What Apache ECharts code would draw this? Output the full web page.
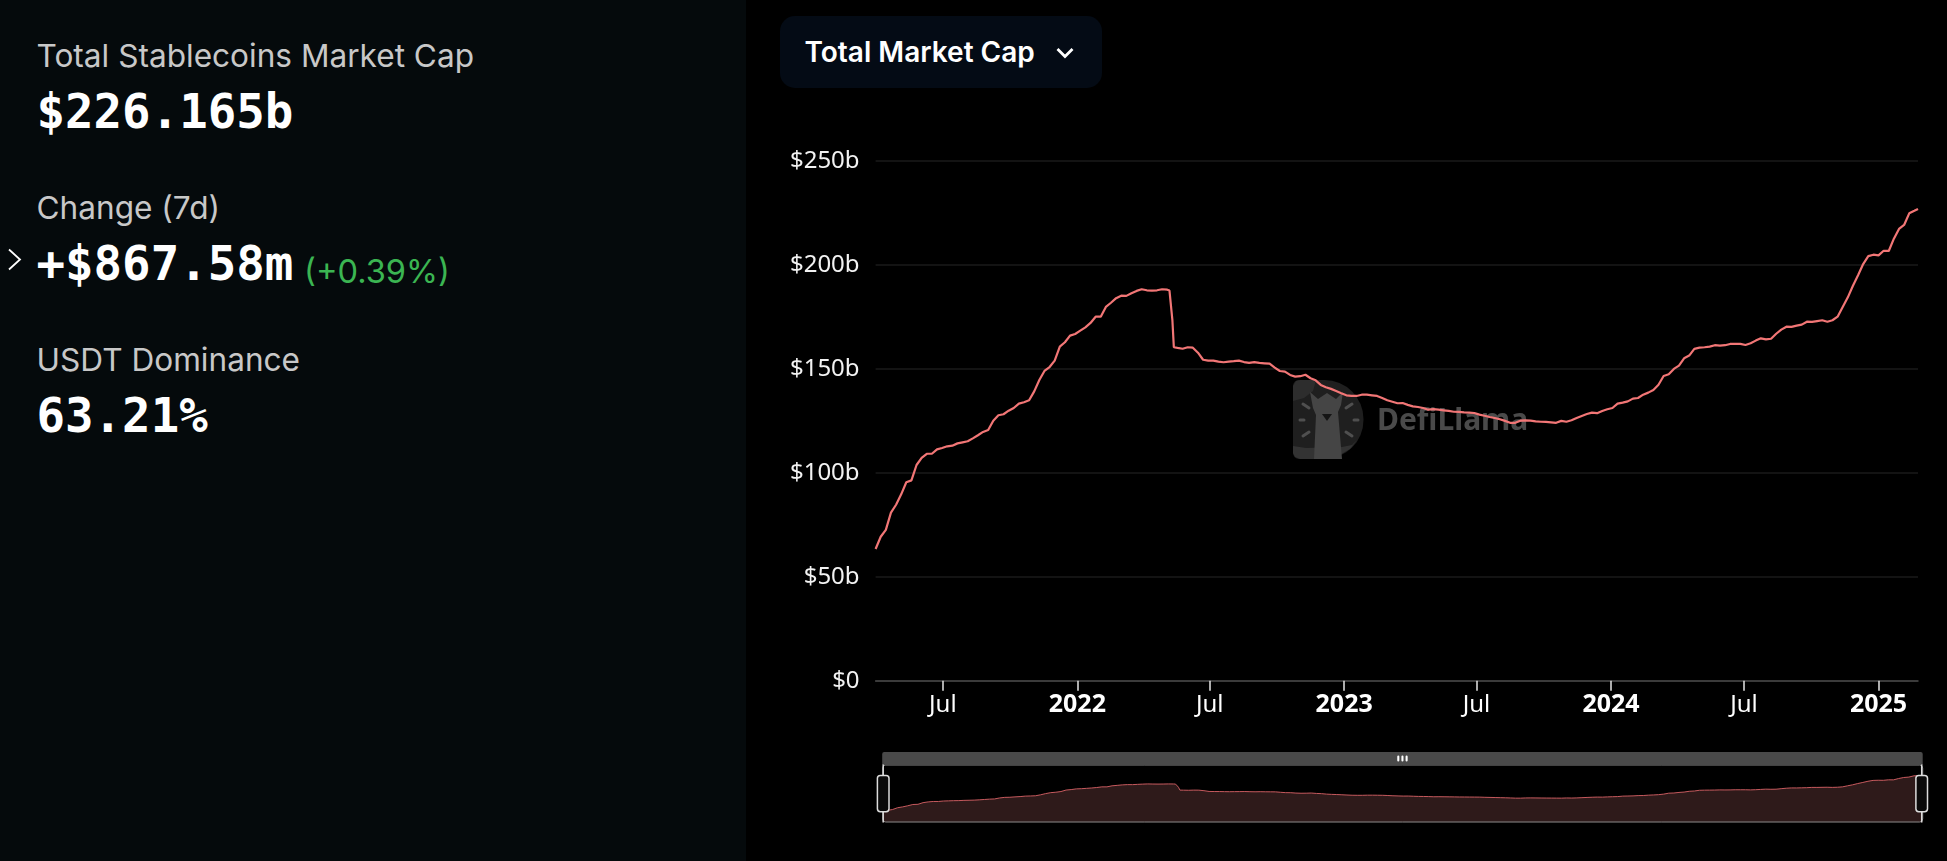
<!DOCTYPE html>
<html>
<head>
<meta charset="utf-8">
<title>Total Stablecoins Market Cap</title>
<script src="https://cdn.jsdelivr.net/npm/echarts@6/dist/echarts.min.js"></script>
<style>
  html, body { margin: 0; padding: 0; width: 1947px; height: 861px; background: #000; overflow: hidden; }
  #chart { position: absolute; left: 0; top: 0; width: 1947px; height: 861px; }
  #side { position: absolute; left: 0; top: 0; width: 746px; height: 861px; background: #050a0c; z-index: 2; }
  .t { position: absolute; white-space: nowrap; line-height: 1; }
  .label { left: 36.5px; font: 400 31.6px Inter, sans-serif; line-height: 1; color: #c8c8c8; }
  .num { left: 36.5px; font: 700 47.4px "DejaVu Sans Mono", monospace; line-height: 1; color: #fff; }
  #pct { left: 304px; top: 255px; font: 400 32.6px Inter, sans-serif; line-height: 1; color: #3bb552; }
  #btn { position: absolute; left: 780px; top: 16px; width: 322px; height: 72px; border-radius: 15px; background: #040b15; z-index: 2; }
  #btn span { position: absolute; left: 24.5px; top: 22px; white-space: nowrap; font: 600 28px Inter, sans-serif; line-height: 1; color: #fff; }
  #btn svg, #arrow { position: absolute; }
</style>
</head>
<body>
<div id="chart"></div>
<div id="side">
  <div class="t label" style="top:40px">Total Stablecoins Market Cap</div>
  <div class="t num" style="top:88px">$226.165b</div>
  <div class="t label" style="top:192px">Change (7d)</div>
  <svg id="arrow" style="left:7px;top:248px" width="16" height="24"><path d="M2 1.5 L13 11.5 L2 21.5" fill="none" stroke="#fff" stroke-width="1.8"/></svg>
  <div class="t num" style="top:240px">+$867.58m</div>
  <div class="t" id="pct">(+0.39%)</div>
  <div class="t label" style="top:344px">USDT Dominance</div>
  <div class="t num" style="top:392px">63.21%</div>
</div>
<div id="btn">
  <span>Total Market Cap</span>
  <svg style="left:275px;top:30px" width="20" height="14"><path d="M2.5 3 L10 10.5 L17.5 3" fill="none" stroke="#fff" stroke-width="2.8"/></svg>
</div>
<script>
  // weekly readings, $b
  var firstDate = '2021-03-31';
  var lastDate = '2025-02-24';
  var marketCap = [
    63.3, 69.2, 72.5, 80.8, 84.6, 89.6, 95.4, 96.3, 103.7, 107.1,
    109.1, 109.1, 111.2, 111.9, 112.7, 113.0, 114.1, 114.6, 115.1, 116.5,
    118.0, 119.6, 120.5, 125.0, 127.6, 128.1, 129.8, 131.1, 133.2, 133.9,
    134.8, 139.1, 144.6, 148.9, 150.8, 153.9, 160.6, 162.7, 165.9, 166.7,
    168.3, 169.9, 172.0, 175.0, 175.0, 179.7, 181.7, 183.9, 185.1, 185.0,
    186.3, 187.4, 188.2, 187.7, 187.5, 187.7, 188.2, 188.0, 173.4, 160.0,
    159.6, 160.3, 160.1, 157.7, 154.3, 153.9, 153.9, 153.4, 153.1, 153.4,
    153.6, 153.9, 153.2, 152.8, 153.2, 152.8, 152.6, 152.4, 150.5, 148.9,
    148.6, 147.0, 146.2, 146.4, 147.1, 145.4, 144.4, 142.2, 141.1, 140.3,
    139.3, 138.2, 137.2, 136.9, 136.9, 137.5, 137.5, 137.2, 136.9, 135.9,
    134.8, 134.1, 133.4, 133.5, 132.6, 131.9, 131.6, 131.1, 130.3, 130.6,
    130.3, 130.0, 129.7, 129.3, 129.2, 129.0, 128.9, 128.7, 127.9, 127.4,
    126.8, 126.3, 125.7, 124.9, 124.0, 124.0, 125.0, 125.2, 125.0, 124.7,
    124.5, 124.4, 124.2, 124.0, 124.9, 124.5, 125.2, 126.3, 127.3, 128.2,
    128.9, 128.6, 129.7, 130.5, 131.1, 133.2, 133.7, 134.3, 135.6, 135.9,
    137.5, 138.5, 139.8, 142.3, 146.5, 147.3, 149.9, 151.5, 155.0, 156.3,
    159.5, 160.1, 160.3, 160.6, 161.3, 161.1, 161.3, 161.9, 161.9, 161.9,
    161.4, 162.2, 163.5, 164.6, 164.1, 164.4, 166.8, 168.8, 170.2, 170.1,
    170.7, 171.2, 172.6, 172.5, 172.9, 173.3, 172.6, 173.3, 175.0, 179.7,
    184.3, 189.9, 194.9, 200.3, 204.1, 204.8, 204.5, 206.7, 206.6, 212.5,
    217.2, 219.1, 224.7, 225.9, 226.8
  ];
  // the May 2022 drop falls between weekly readings
  var dropDates = ['2022-05-07', '2022-05-13'];
  var dropValues = [187.6, 160.3];
  var tickDates = ['2021-07-01', '2022-01-01', '2022-07-01', '2023-01-01', '2023-07-01', '2024-01-01', '2024-07-01', '2025-01-01'];

  function toTime(s) { return new Date(s + 'T00:00:00').getTime(); }

  var seriesData = [];
  for (var i = 0; i < marketCap.length; i++) {
    var d = toTime(firstDate) + i * 7 * 86400000;
    if (i === marketCap.length - 1) d = toTime(lastDate);
    seriesData.push([d, marketCap[i]]);
  }
  for (var j = 0; j < dropDates.length; j++) {
    seriesData.push([toTime(dropDates[j]), dropValues[j]]);
  }
  seriesData.sort(function (a, b) { return a[0] - b[0]; });

  // DefiLlama watermark, drawn under the line
  function ray(x1, y1, x2, y2) {
    return { type: 'line', z: 0, silent: true, shape: { x1: x1, y1: y1, x2: x2, y2: y2 }, style: { stroke: '#4f4f4f', lineWidth: 3, lineCap: 'round' } };
  }
  var watermark = [
    { type: 'rect', z: 0, silent: true, shape: { x: 1293, y: 380, width: 70.5, height: 79, r: [6, 39, 39, 6] }, style: { fill: '#1f1f1f' } },
    { type: 'polygon', z: 0, silent: true, shape: { points: [[1293, 401], [1293, 386], [1296, 381], [1300, 380], [1316, 380], [1313, 391], [1304, 398]] }, style: { fill: '#2d2d2d' } },
    { type: 'polygon', z: 0, silent: true, shape: { points: [[1293, 446], [1306, 448], [1342, 447], [1352, 445], [1357, 440], [1350, 449], [1338, 456], [1324, 459], [1300, 459], [1295, 457], [1293, 453]] }, style: { fill: '#333' } },
    { type: 'polygon', z: 0, silent: true, shape: { points: [[1314, 459], [1316, 415], [1313, 408], [1310, 392], [1318, 399], [1327, 393], [1336, 399], [1343, 392], [1341, 405], [1338, 412], [1342, 459]] }, style: { fill: '#454545' } },
    { type: 'polygon', z: 0, silent: true, shape: { points: [[1322, 414], [1332, 414], [1327, 421]] }, style: { fill: '#151515' } },
    ray(1303, 404, 1309, 408), ray(1300, 420, 1304, 420), ray(1303, 436, 1309, 432),
    ray(1352, 404, 1346, 408), ray(1354, 420, 1358, 420), ray(1352, 436, 1346, 432),
    { type: 'text', z: 0, silent: true, x: 1377, y: 421, style: { text: 'DefiLlama', fill: '#4a4a4a', font: '700 30px "Noto Sans", sans-serif', verticalAlign: 'middle' } }
  ];

  var chart = echarts.init(document.getElementById('chart'));
  chart.setOption({
    animation: false,
    backgroundColor: 'transparent',
    textStyle: { fontFamily: '"Noto Sans", sans-serif' },
    grid: { left: 875.6, right: 29, top: 160.7, height: 520, containLabel: false },
    xAxis: {
      type: 'time',
      splitNumber: 6,
      axisLine: { lineStyle: { color: '#4a4a4a', width: 1.5 } },
      splitLine: { show: false },
      axisTick: { show: true, length: 10, customValues: tickDates, lineStyle: { color: '#e6e6e6', width: 1.5 } },
      axisLabel: {
        margin: 12,
        color: '#fff',
        fontSize: 24,
        showMinLabel: false,
        showMaxLabel: false,
        formatter: function (value) {
          var d = new Date(value);
          if (d.getMonth() === 0) return '{year|' + d.getFullYear() + '}';
          return d.getMonth() === 6 ? 'Jul' : '';
        },
        rich: { year: { fontWeight: 700, fontSize: 25, color: '#fff' } }
      }
    },
    yAxis: {
      type: 'value',
      min: 0,
      max: 250,
      interval: 50,
      axisLine: { show: false },
      axisTick: { show: false },
      splitLine: { lineStyle: { color: '#1a1a1a', width: 1.5 } },
      axisLabel: {
        margin: 16,
        color: '#f2f2f2',
        fontSize: 24,
        padding: [0, 0, 2, 0],
        formatter: function (v) { return v === 0 ? '$0' : '$' + v + 'b'; }
      }
    },
    dataZoom: [{
      type: 'slider',
      start: 0,
      end: 100,
      left: 877,
      right: 29.5,
      top: 752,
      height: 58,
      showDetail: false,
      brushSelect: true,
      moveHandleSize: 13,
      moveHandleStyle: { color: '#4a4a4a', opacity: 1 },
      borderColor: '#868686',
      borderRadius: 3,
      backgroundColor: 'transparent',
      fillerColor: 'rgba(0,0,0,0)',
      handleStyle: { color: '#0a0a0a', borderColor: '#dcdcdc', borderWidth: 1.5 },
      dataBackground: { lineStyle: { color: '#c65a5e', width: 1, opacity: 1 }, areaStyle: { color: '#2e1a1a', opacity: 1 } },
      selectedDataBackground: { lineStyle: { color: '#c65a5e', width: 1, opacity: 1 }, areaStyle: { color: '#2e1a1a', opacity: 1 } }
    }],
    graphic: watermark,
    series: [{
      type: 'line',
      data: seriesData,
      showSymbol: false,
      sampling: false,
      z: 3,
      lineStyle: { color: '#f27676', width: 2.2 }
    }]
  });
</script>
</body>
</html>
